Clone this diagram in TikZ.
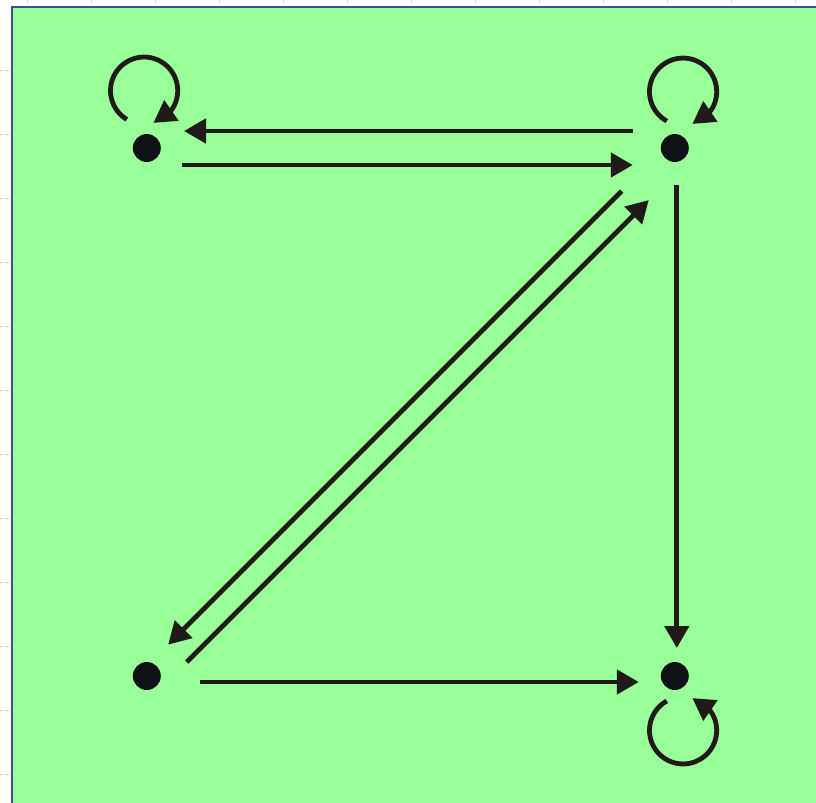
\documentclass[tikz,border=0pt]{standalone}
\usepackage{xcolor}
\usepackage{tikz}
\usetikzlibrary{arrows.meta, positioning, bending}

\definecolor{bggreen}{RGB}{153,255,153}
\definecolor{inkdark}{RGB}{32,26,24}
\definecolor{dotdark}{RGB}{17,18,22}
\definecolor{frameblue}{RGB}{63,75,155}
\definecolor{gridblue}{RGB}{196,210,245}

\begin{document}
\begin{tikzpicture}[node distance=13.2cm, on grid,
        state/.style={circle, fill=dotdark, minimum size=0.7cm, inner sep=0pt},
        arr/.style={draw=inkdark, line width=0.12cm, -{Triangle[length=0.55cm, width=0.6cm]}},
        selfloop/.style={draw=inkdark, line width=0.12cm, -{Triangle[length=0.55cm, width=0.6cm]}},
        gridline/.style={draw=gridblue, line width=0.025cm, dash pattern=on 0.075cm off 0.075cm}]
        \path[use as bounding box, clip] (0,0) rectangle (20.4,-20.05);
        \foreach \gx in {0,...,12}
            \draw[gridline] ({(28+64*\gx)*0.025},0) -- ++(0,-20.05);
        \foreach \gy in {0,...,11}
            \draw[gridline] (0,{-(71+64*\gy)*0.025}) -- ++(20.4,0);
        \draw[draw=frameblue, line width=0.045cm, fill=bggreen] (0.295,-0.17) rectangle (21,-21);

        \node (tl) [state] at (3.67,-3.7) {};
        \node (tr) [state, right=of tl] {};
        \node (bl) [state, below=of tl] {};
        \node (br) [state, right=of bl] {};

        \draw[arr, shorten <=1.05cm, shorten >=0.93cm] ([yshift=0.425cm]tr.center) -- ([yshift=0.425cm]tl.center);
        \draw[arr, shorten <=0.88cm, shorten >=1.05cm] ([yshift=-0.425cm]tl.center) -- ([yshift=-0.425cm]tr.center);
        \draw[arr, shorten <=0.93cm, shorten >=0.7cm] ([xshift=0.05cm]tr.center) -- ([xshift=0.05cm]br.center);
        \draw[arr, shorten <=1.34cm, shorten >=0.9cm] ([yshift=-0.15cm]bl.center) -- ([yshift=-0.15cm]br.center);
        \draw[arr, shorten <=1.7cm, shorten >=0.93cm] ([shift={(-0.125,0.125)}]tr.center) -- ([shift={(-0.125,0.125)}]bl.center);
        \draw[arr, shorten <=0.95cm, shorten >=1.38cm] ([shift={(0.325,-0.325)}]bl.center) -- ([shift={(0.325,-0.325)}]tr.center);

        \draw[selfloop] ([shift={(-0.50,0.714)}]tl.center) arc[start angle=239, end angle=-74, radius=0.84cm];
        \draw[selfloop] ([shift={(-0.20,0.674)}]tr.center) arc[start angle=241, end angle=-74, radius=0.84cm];
        \draw[selfloop] ([shift={(-0.20,-0.624)}]br.center) arc[start angle=119, end angle=434, radius=0.84cm];
    \end{tikzpicture}
\end{document}
